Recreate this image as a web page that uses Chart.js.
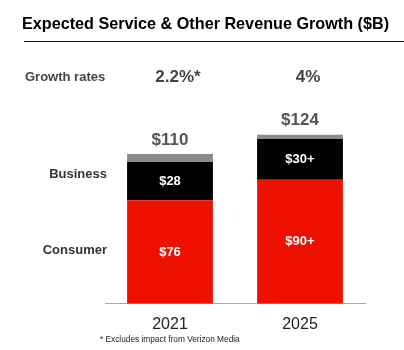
<!DOCTYPE html>
<html>
<head>
<meta charset="utf-8">
<script src="https://cdn.jsdelivr.net/npm/chart.js@4.4.0/dist/chart.umd.min.js"></script>
<style>
  html, body { margin: 0; padding: 0; background: #fff; }
  #wrap { position: relative; width: 404px; height: 350px; }
</style>
</head>
<body>
<div id="wrap"><canvas id="revenueChart" width="404" height="350"></canvas></div>
<script>
const years = ['2021', '2025'];
const consumer = [76, 91];
const business = [28, 30];
const other = [6, 3];
const consumerLabels = ['$76', '$90+'];
const businessLabels = ['$28', '$30+'];
const totalLabels = ['$110', '$124'];
const growthRates = ['2.2%*', '4%'];

const FONT = '"Liberation Sans", Arial, sans-serif';

const annotations = {
    id: 'annotations',
    afterDraw(chart) {
        const ctx = chart.ctx;
        const x = chart.scales.x;
        ctx.save();

        // title + rule
        ctx.fillStyle = '#000';
        ctx.font = 'bold 16.2px ' + FONT;
        ctx.textAlign = 'left';
        ctx.textBaseline = 'middle';
        ctx.fillText('Expected Service & Other Revenue Growth ($B)', 22, 25);
        ctx.strokeStyle = '#111';
        ctx.lineWidth = 1;
        ctx.beginPath();
        ctx.moveTo(24, 41.5);
        ctx.lineTo(404, 41.5);
        ctx.stroke();

        // growth rates row
        ctx.fillStyle = '#444';
        ctx.font = 'bold 13px ' + FONT;
        ctx.fillText('Growth rates', 25, 77);
        ctx.font = 'bold 17px ' + FONT;
        ctx.textAlign = 'center';
        growthRates.forEach((g, i) => {
            ctx.fillText(g, x.getPixelForValue(i) + 8, 77);
        });

        // segment labels
        const cons = chart.getDatasetMeta(0).data;
        const bus = chart.getDatasetMeta(1).data;
        const oth = chart.getDatasetMeta(2).data;
        ctx.fillStyle = '#fff';
        ctx.font = 'bold 13px ' + FONT;
        cons.forEach((bar, i) => {
            ctx.fillText(consumerLabels[i], bar.x, (bar.y + bar.base) / 2);
        });
        bus.forEach((bar, i) => {
            ctx.fillText(businessLabels[i], bar.x, (bar.y + bar.base) / 2);
        });

        // totals
        ctx.fillStyle = '#555';
        ctx.font = 'bold 17px ' + FONT;
        oth.forEach((bar, i) => {
            ctx.fillText(totalLabels[i], bar.x, bar.y - 14);
        });

        // row labels
        ctx.fillStyle = '#333';
        ctx.font = 'bold 13px ' + FONT;
        ctx.textAlign = 'right';
        ctx.fillText('Business', 107, (bus[0].y + bus[0].base) / 2 - 7);
        ctx.fillText('Consumer', 107, (cons[0].y + cons[0].base) / 2 - 2);

        // footnote
        ctx.fillStyle = '#222';
        ctx.font = '8.3px ' + FONT;
        ctx.textAlign = 'left';
        ctx.fillText('* Excludes impact from Verizon Media', 100, 340);

        ctx.restore();
    }
};

new Chart(document.getElementById('revenueChart'), {
    type: 'bar',
    data: {
        labels: years,
        datasets: [
            { label: 'Consumer', data: consumer, backgroundColor: '#EE1100' },
            { label: 'Business', data: business, backgroundColor: '#000000' },
            { label: 'Other', data: other, backgroundColor: '#8A8A8A' }
        ]
    },
    options: {
        responsive: false,
        animation: false,
        layout: { padding: { left: 105, right: 39, top: 113, bottom: 13 } },
        datasets: { bar: { barPercentage: 0.66, categoryPercentage: 1 } },
        plugins: { legend: { display: false }, tooltip: { enabled: false } },
        scales: {
            x: {
                stacked: true,
                grid: { display: false },
                border: { display: true, color: '#aaa', width: 1 },
                ticks: { color: '#222', font: { family: FONT, size: 16 }, padding: 3 }
            },
            y: {
                stacked: true,
                display: false,
                min: 0,
                max: 140
            }
        }
    },
    plugins: [annotations]
});
</script>
</body>
</html>
